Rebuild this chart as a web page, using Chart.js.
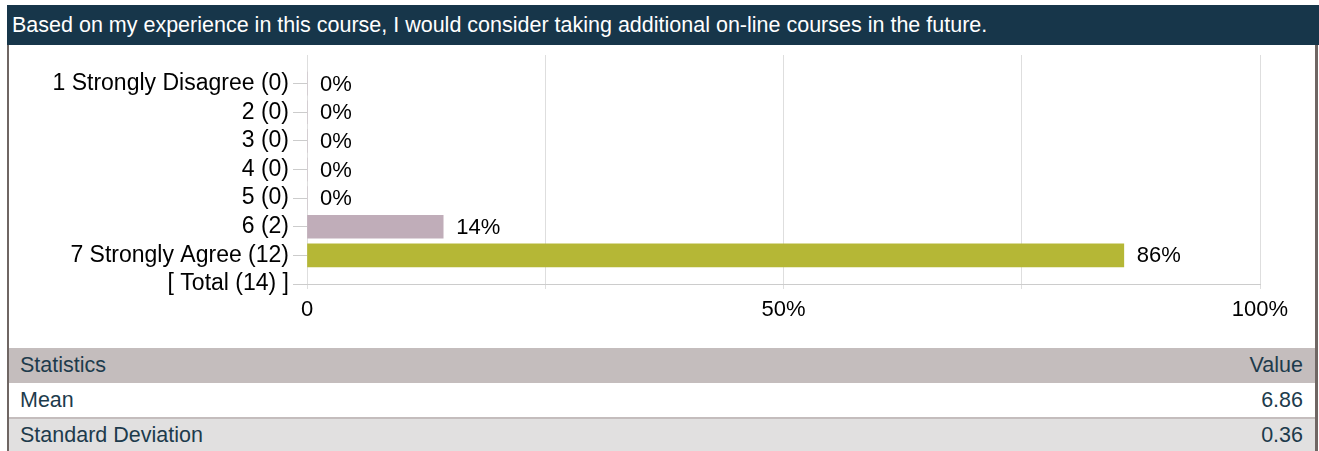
<!DOCTYPE html>
<html>
<head>
<meta charset="utf-8">
<script src="https://cdn.jsdelivr.net/npm/chart.js@4/dist/chart.umd.min.js"></script>
<style>
    body { margin: 0; width: 1319px; height: 451px; overflow: hidden; background: #fff;
           font-family: "Liberation Sans", Arial, sans-serif; }
    #title { position: absolute; left: 7px; top: 5px; width: 1307px; height: 40px; padding-left: 5px;
             background: #17364a; color: #fff; font-size: 21.5px; line-height: 40px; white-space: nowrap; }
    .side { position: absolute; top: 45px; height: 406px; background: #6f6663; }
    #chartBox { position: absolute; left: 9px; top: 45px; width: 1306px; height: 300px; }
    #stats { position: absolute; left: 9px; top: 348px; width: 1306px; border-collapse: collapse;
             font-size: 21.5px; color: #1d3b4c; }
    #stats td { padding: 0 12px 0 11px; height: 34px; }
    #stats td.num { text-align: right; }
    #stats tr.head td { background: #c4bdbd; height: 35px; }
    #stats tr.alt td { background: #e1e0e0; border-top: 2px solid #c4bdbd; height: 32px; }
</style>
</head>
<body>
<div id="title">Based on my experience in this course, I would consider taking additional on-line courses in the future.</div>
<div class="side" style="left:7px;width:2px"></div>
<div class="side" style="left:1315px;width:3px"></div>
<div id="chartBox"><canvas id="chart" width="1306" height="300"></canvas></div>
<table id="stats">
    <tr class="head"><td>Statistics</td><td class="num">Value</td></tr>
    <tr><td>Mean</td><td class="num">6.86</td></tr>
    <tr class="alt"><td>Standard Deviation</td><td class="num">0.36</td></tr>
</table>

<script>
/* ------------------------------------------------------------
   Données
------------------------------------------------------------ */
const categories = [
    "1 Strongly Disagree (0)",
    "2 (0)",
    "3 (0)",
    "4 (0)",
    "5 (0)",
    "6 (2)",
    "7 Strongly Agree (12)",
    "[ Total (14) ]"
];
const percents = [0, 0, 0, 0, 0, 14.29, 85.71, null];
const xTicks = [0, 25, 50, 75, 100];
const xTickLabels = ["0", "", "50%", "", "100%"];

const barColors = ["#c0adb9", "#c0adb9", "#c0adb9", "#c0adb9", "#c0adb9", "#c0adb9", "#b5b736", "#c0adb9"];

// une ligne vide en tête pour que "[ Total ]" tombe sur l'axe
const labels = [""].concat(categories);
const values = [null].concat(percents);
const colors = ["#fff"].concat(barColors);

/* ------------------------------------------------------------
   Étiquettes de valeur à droite des barres
------------------------------------------------------------ */
const valueLabels = {
    id: "valueLabels",
    afterDatasetsDraw(chart) {
        const ctx = chart.ctx;
        const meta = chart.getDatasetMeta(0);
        ctx.save();
        ctx.font = "22px 'Liberation Sans', Arial, sans-serif";
        ctx.fillStyle = "#000";
        ctx.textBaseline = "middle";
        ctx.textAlign = "left";
        meta.data.forEach((bar, i) => {
            const v = values[i];
            if (v === null) return;
            ctx.fillText(Math.round(v) + "%", bar.x + 13, bar.y + 1);
        });
        ctx.restore();
    }
};

Chart.defaults.font.family = "'Liberation Sans', Arial, sans-serif";
Chart.defaults.font.size = 22;
Chart.defaults.color = "#000";

new Chart(document.getElementById("chart"), {
    type: "bar",
    data: {
        labels: labels,
        datasets: [{
            data: values,
            backgroundColor: colors,
            barThickness: 23
        }]
    },
    options: {
        indexAxis: "y",
        responsive: false,
        animation: false,
        devicePixelRatio: 1,
        layout: { padding: { top: 10, right: 55, left: 0, bottom: 0 } },
        plugins: { legend: { display: false }, tooltip: { enabled: false } },
        scales: {
            x: {
                min: 0,
                max: 100,
                afterBuildTicks(scale) {
                    scale.ticks = xTicks.map(v => ({ value: v }));
                },
                afterFit(scale) { scale.height = 61; },
                ticks: {
                    autoSkip: false,
                    maxRotation: 0,
                    padding: 8,
                    callback: (v) => xTickLabels[xTicks.indexOf(v)]
                },
                grid: { color: "#dedede", tickLength: 5 },
                border: { color: "#cccccc" }
            },
            y: {
                type: "category",
                offset: false,
                afterFit(scale) {
                    scale.width = 298;
                    scale.paddingTop = 0;
                    scale.paddingBottom = 0;
                },
                ticks: { padding: 4, autoSkip: false, font: { size: 23 } },
                grid: {
                    offset: false,
                    drawOnChartArea: false,
                    tickLength: 14,
                    tickColor: (c) => c.index === 0 ? "rgba(0,0,0,0)" : "#cccccc"
                },
                border: { display: false }
            }
        }
    },
    plugins: [valueLabels]
});
</script>
</body>
</html>
